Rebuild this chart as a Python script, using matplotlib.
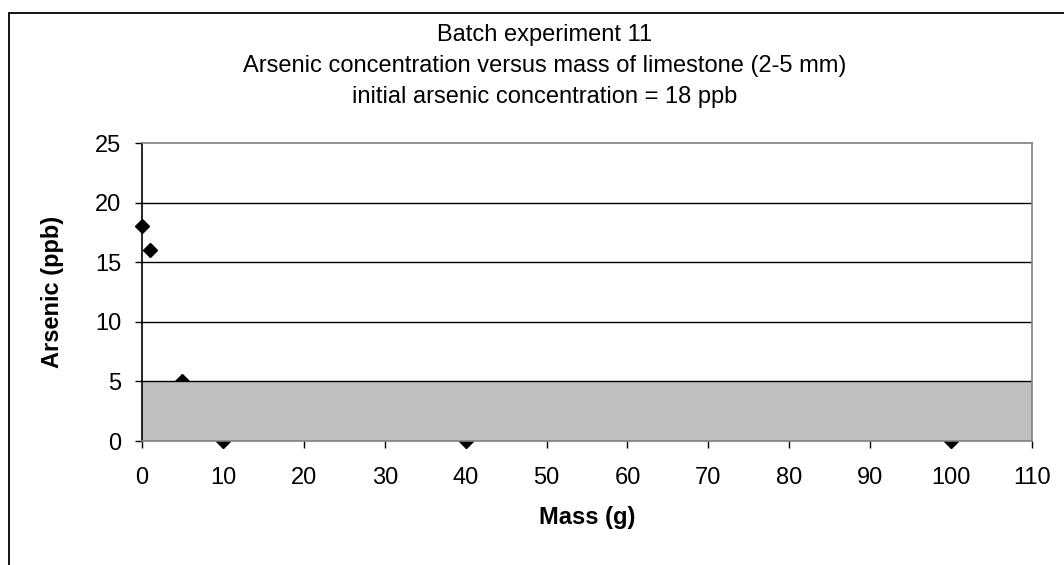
import matplotlib
matplotlib.use('Agg')
import matplotlib.pyplot as plt
from matplotlib.patches import Rectangle

plt.rcParams['font.family'] = ['Liberation Sans', 'DejaVu Sans']

# data
mass = [0, 1, 5, 10, 40, 100]
arsenic = [18, 16, 5, 0, 0, 0]
band_low, band_high = 0, 5
x_ticks = list(range(0, 111, 10))
y_ticks = list(range(0, 26, 5))
title_lines = ["Batch experiment 11",
               "Arsenic concentration versus mass of limestone (2-5 mm)",
               "initial arsenic concentration = 18 ppb"]

W, H = 1064, 565
fig = plt.figure(figsize=(W / 100, H / 100), dpi=100)
ax = fig.add_axes([142 / W, 1 - 441 / H, 890 / W, 298 / H])

# outer chart frame (runs off the right and bottom edge)
fig.patches.append(Rectangle((9 / W, -0.1), 1.2, 1 - 13 / H + 0.1,
                             transform=fig.transFigure, fill=False,
                             edgecolor='black', linewidth=1.3))

ax.plot(mass, arsenic, linestyle='none', marker='D', color='black',
        markersize=6.8, zorder=2, clip_on=False)
ax.axhspan(band_low, band_high, facecolor='#c0c0c0', edgecolor='none', zorder=3)
for y in y_ticks[1:-1]:
    ax.axhline(y, color='black', linewidth=1, zorder=4)

ax.set_xlim(0, 110)
ax.set_ylim(0, 25)
ax.set_xticks(x_ticks)
ax.set_yticks(y_ticks)
ax.tick_params(labelsize=17, length=5, width=1, color='black')
ax.tick_params(axis='x', pad=14)
ax.tick_params(axis='y', pad=10)

for side in ['top', 'right', 'bottom']:
    ax.spines[side].set_color('#808080')
    ax.spines[side].set_linewidth(1.2)
ax.spines['left'].set_color('black')
ax.spines['left'].set_linewidth(1.2)
for s in ax.spines.values():
    s.set_zorder(5)

ax.set_xlabel("Mass (g)", fontsize=17, fontweight='bold', labelpad=12)
ax.set_ylabel("Arsenic (ppb)", fontsize=17, fontweight='bold', labelpad=22)

for i, line in enumerate(title_lines):
    fig.text(545 / W, 1 - (35 + 31 * i) / H, line, ha='center', va='center',
             fontsize=17)

fig.savefig("out.png", dpi=100)
